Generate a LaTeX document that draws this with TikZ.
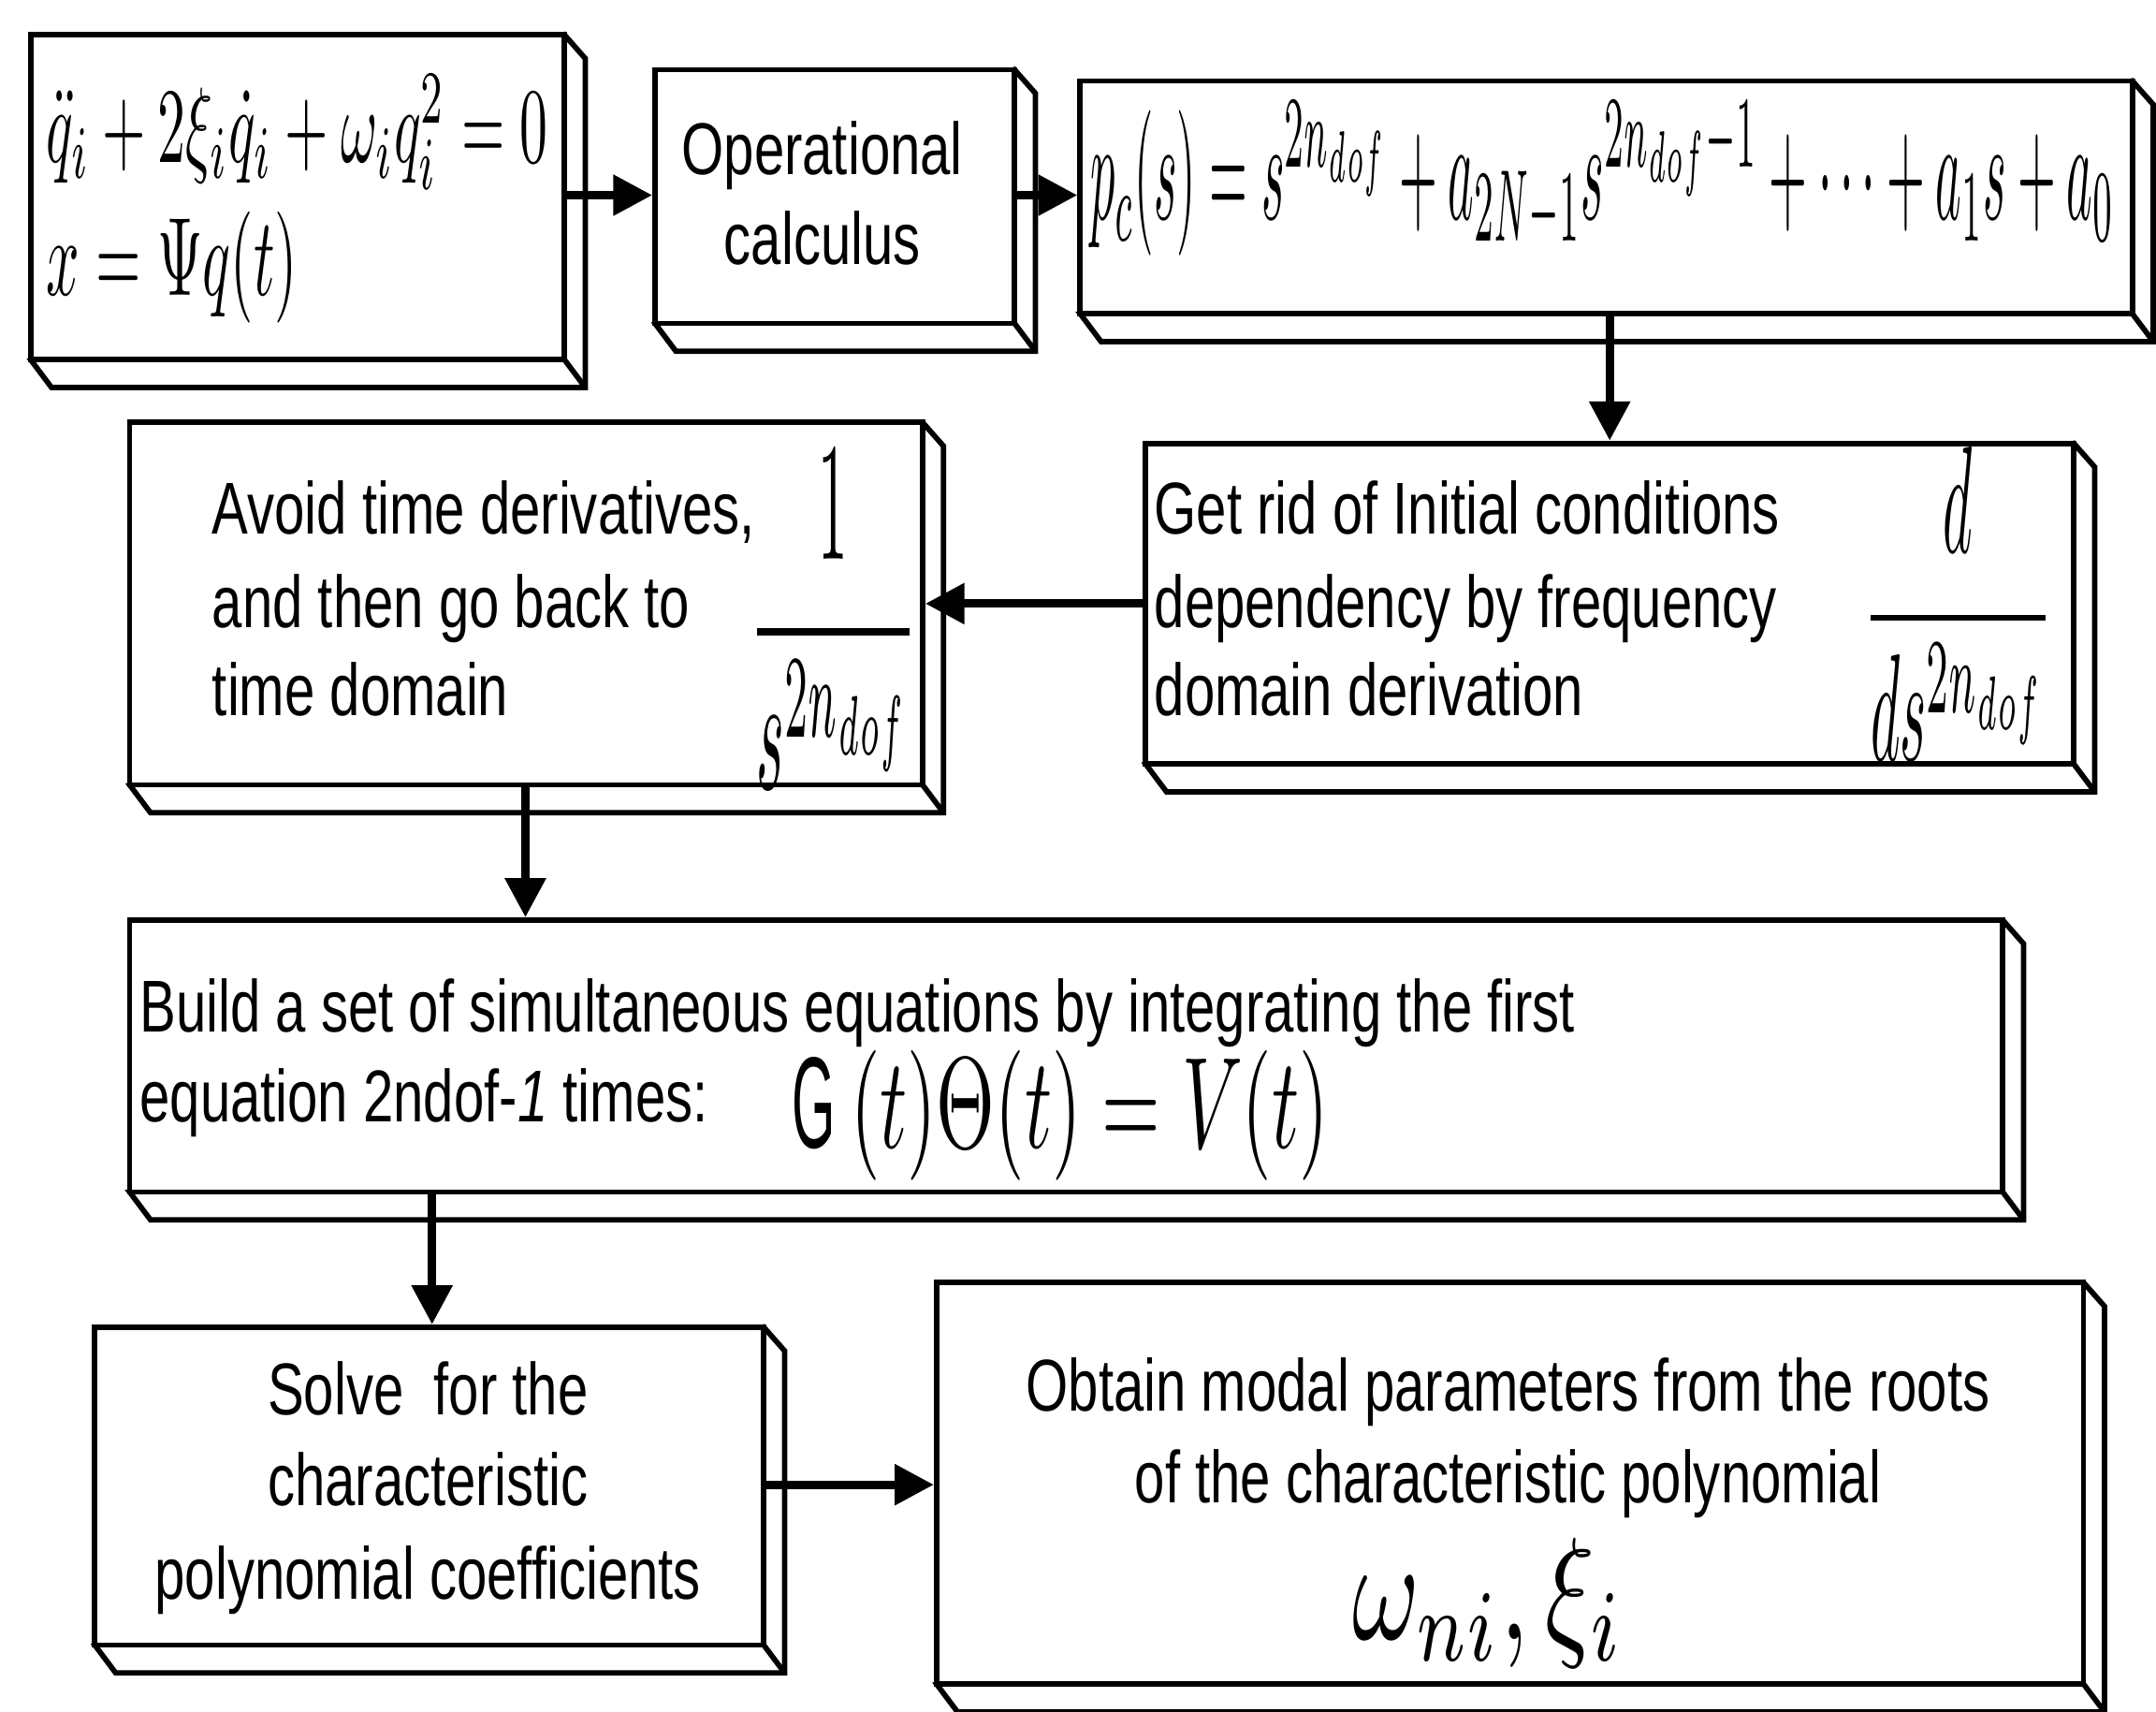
\documentclass[tikz,border=0pt]{standalone}
\usepackage{amsmath}
\usepackage{fontspec}
\setmainfont{Liberation Sans}[FakeStretch=0.74]
\usepackage{graphicx}
\usetikzlibrary{calc,arrows.meta}
\tikzset{
 bx/.style={draw,line width=2.2pt,fill=white,inner sep=0},
 dp/.style={draw,line width=2.2pt,fill=white,line join=miter},
 ar/.style={line width=3.5pt,-{Triangle[length=16pt,width=16pt]}},
 tl/.style={anchor=base west,inner sep=0,font=\fontsize{30}{34}\selectfont},
 tc/.style={anchor=base,inner sep=0,font=\fontsize{30}{34}\selectfont},
}
\newcommand\tdbox[5]{%
 \path[dp] (#4,#3) -- (#4+15,#3+17) -- (#4+15,#5+20) -- (#2+15,#5+20) -- (#2,#5) -- cycle;
 \draw[line width=2.2pt] (#4,#5) -- (#4+15,#5+20);
 \node[bx,minimum width={(#4-#2)*0.02cm},minimum height={(#5-#3)*0.02cm}] (#1) at ({(#2+#4)/2},{(#3+#5)/2}) {};}
\begin{document}
\begin{tikzpicture}[x=0.02cm,y=-0.02cm]
\useasboundingbox (0,0) rectangle (1547,1228);
\tdbox{b1}{22}{25}{405}{258}
\tdbox{b2}{470}{50}{728}{232}
\tdbox{b3}{775}{58}{1530}{225}
\tdbox{b4}{822}{318}{1488}{548}
\tdbox{b5}{93}{303}{662}{563}
\tdbox{b6}{93}{660}{1437}{855}
\tdbox{b7}{68}{952}{548}{1180}
\tdbox{b8}{672}{920}{1495}{1208}
% box1
\node[anchor=west,inner sep=0] (m1) at (33,95) {\resizebox{7.2cm}{1.25cm}{$\ddot q_i+2\xi_i\dot q_i+\omega_i q_i^2=0$}};
\node[anchor=west,inner sep=0] (m2) at (33,192) {\resizebox{3.6cm}{1.2cm}{$x=\Psi q(t)$}};
% box2
\node[tc] (t2a) at (590,125) {Operational};
\node[tc] (t2b) at (590,190) {calculus};
% box3
\node[anchor=west,inner sep=0] (m3) at (782,128) {\resizebox{14.7cm}{1.7cm}{$p_c(s)=s^{2n_{dof}}+a_{2N-1}s^{2n_{dof}-1}+\cdots+a_1s+a_0$}};
% box4
\node[tl] (t4a) at (828,383) {Get rid of Initial conditions};
\node[tl] (t4b) at (828,450) {dependency by frequency};
\node[tl] (t4c) at (828,513) {domain derivation};
\node[inner sep=0] (f4) at (1405,433) {\resizebox{2.7cm}{3cm}{$\dfrac{d}{ds^{2n_{dof}}}$}};
% box5
\node[tl] (t5a) at (152,383) {Avoid time derivatives,};
\node[tl] (t5b) at (152,450) {and then go back to};
\node[tl] (t5c) at (152,513) {time domain};
\node[inner sep=0] (f5) at (598,445) {\resizebox{2.4cm}{3.2cm}{$\dfrac{1}{s^{2n_{dof}}}$}};
% box6
\node[tl] (t6a) at (100,740) {Build a set of simultaneous equations by integrating the first};
\node[tl] (t6b) at (100,805) {equation 2ndof-\textit{1} times:};
\node[anchor=west,inner sep=0] (m6) at (568,800) {\resizebox{7.7cm}{1.4cm}{$\mathrm{G}(t)\Theta(t)=V(t)$}};
% box7
\node[tc] (t7a) at (307,1015) {Solve\ \ for the};
\node[tc] (t7b) at (307,1080) {characteristic};
\node[tc] (t7c) at (307,1147) {polynomial coefficients};
% box8
\node[tc] (t8a) at (1082,1012) {Obtain modal parameters from the roots};
\node[tc] (t8b) at (1082,1078) {of the characteristic polynomial};
\node[inner sep=0] (m8) at (1068,1150) {\resizebox{3.9cm}{1.45cm}{$\omega_{ni},\xi_i$}};
% arrows
\draw[ar] (b1.east|-0,140) -- (b2.west|-0,140);
\draw[ar] (b2.east|-0,140) -- (b3.west|-0,140);
\draw[ar] (1155,0|-b3.south) -- (1155,0|-b4.north);
\draw[ar] (b4.west|-0,433) -- (b5.east|-0,433);
\draw[ar] (377,0|-b5.south) -- (377,0|-b6.north);
\draw[ar] (310,0|-b6.south) -- (310,0|-b7.north);
\draw[ar] (b7.east|-0,1065) -- (b8.west|-0,1065);
\end{tikzpicture}
\end{document}
